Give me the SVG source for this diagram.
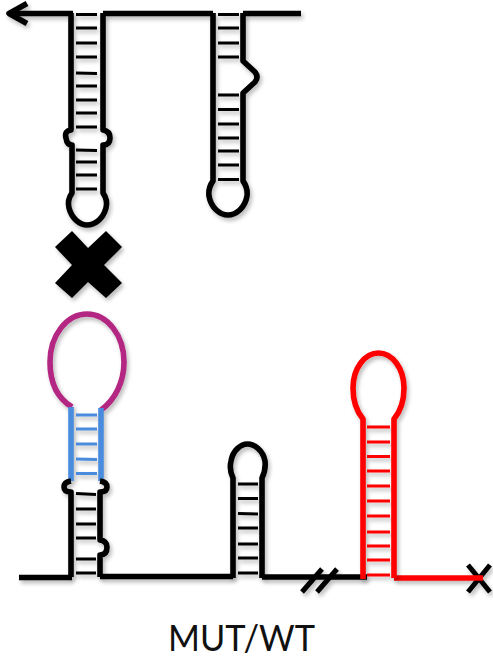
<svg xmlns="http://www.w3.org/2000/svg" width="493" height="657" viewBox="0 0 493 657">
  <defs>
    <filter id="soft" x="-20%" y="-20%" width="140%" height="140%">
      <feGaussianBlur in="SourceGraphic" stdDeviation="0.6" result="b"/>
      <feGaussianBlur in="SourceAlpha" stdDeviation="2"/>
      <feOffset dx="1.5" dy="2.5"/>
      <feComponentTransfer><feFuncA type="linear" slope="0.28"/></feComponentTransfer>
      <feMerge><feMergeNode/><feMergeNode in="b"/></feMerge>
    </filter>
  </defs>
  <style>
    .s { fill: none; stroke-width: 5.6; stroke-linejoin: round; }
    .r { fill: none; stroke-width: 2.8; }
    .k { stroke: #000; }
    .b { stroke: #4a8bdc; }
    .m { stroke: #b32581; }
    .d { stroke: #fe0000; }
    text { font-family: Lato, "Open Sans", "Liberation Sans", sans-serif; font-size: 37.5px; fill: #111; }
  </style>

  <g id="connectors" filter="url(#soft)">
    <path class="s k" d="M9 13.5H73M103 13.5H213M243 13.5H301"/>
    <path class="s k" d="M27 3.500L9 13.500L27 23.500"/>
    <path class="s k" d="M19 577.500H72M100 576.500H233M262 577H367"/>
    <path class="s k" style="stroke-width:5" d="M302 592L322 569M317 592L337 569"/>
    <path class="s k" style="stroke-width:5" d="M468 565L490 592M490 565L468 592"/>
    <path class="s d" d="M394 578H483"/>
  </g>

  <g id="hairpin-upper-left" filter="url(#soft)">
    <path class="s k" d="M71 13V130Q64 131 66 138Q67 145 72 145V193Q67 200 69 208C72 219 80 225 87 225C95 225 103 219 106 208Q108 200 103 193V145Q110 145 110 138Q110 131 103 130V13"/>
    <path class="r k" d="M76 14.500H97M76 28H97M76 43H97M76 57H97M76 73L97 73.500M76 86H97M76 100H97M76 113H97M76 127H97M76 150L97 150.500M76 162H97M76 175H97M76 189H97"/>
  </g>

  <g id="hairpin-upper-right" filter="url(#soft)">
    <path class="s k" d="M213 13V181Q208 188 209 196C211 208 220 215 228 215C236 215 245 208 247 196Q248 188 243 181V93L255 82Q259 77 255 72L243 61V13"/>
    <path class="r k" d="M218 14.500H239M218 28H239M218 43H239M218 57H239M218 95H239M218 109.500H239M218 124H239M218 138H239M218 151H239M218 165H239M218 179.500H239"/>
  </g>

  <g id="cross" filter="url(#soft)">
    <polygon points="72,231 55,247 72,265 55,283 72,298 88,282 106,298 122,283 104,265 122,247 106,231 88,248" fill="#000"/>
  </g>

  <g id="hairpin-lower-left" filter="url(#soft)">
    <path class="s m" d="M72 407C57 398 50 382 50 362C50 335 67 314 87 314C107 314 124 335 124 362C124 382 115 400 101 410"/>
    <path class="s b" d="M71 407V481M101 408V481"/>
    <path class="r b" d="M76 415H97M76 429H97M76 444H97M76 459L97 459.500M76 473.500H97"/>
    <path class="s k" d="M71 481Q64 482 64 487Q64 492 71 492V577M100 481Q107 482 107 487Q107 492 100 492V540Q107 541 107 547Q107 555 100 555V577"/>
    <path class="r k" d="M76 493.500L96 494.500M76 509H96M76 524H96M76 538H96M76 559H96M76 573H96"/>
  </g>

  <g id="hairpin-lower-middle" filter="url(#soft)">
    <path class="s k" d="M233 578V478Q229 470 231 461C233 450 241 444 247.500 444C254 444 263 450 265 461Q266 470 262 478V578"/>
    <path class="r k" d="M238 484H258M238 498.500H258M238 513.500L258 514M238 528H258M238 544H258M238 558H258M238 573H258"/>
  </g>

  <g id="hairpin-red" filter="url(#soft)">
    <path class="s d" d="M363 579V419Q353 407 353 388C353 368 365 353 378.500 353C392 353 404 368 404 388Q404 407 394 419V578"/>
    <path class="r d" d="M367 427H390M367 442H390M367 456.500H390M367 471H390M367 486H390M367 501H390M367 516H390M367 532H390M367 546H390M367 560H390M367 575H390"/>
  </g>

  <text x="168" y="650.500" textLength="147" lengthAdjust="spacingAndGlyphs">MUT/WT</text>
</svg>
